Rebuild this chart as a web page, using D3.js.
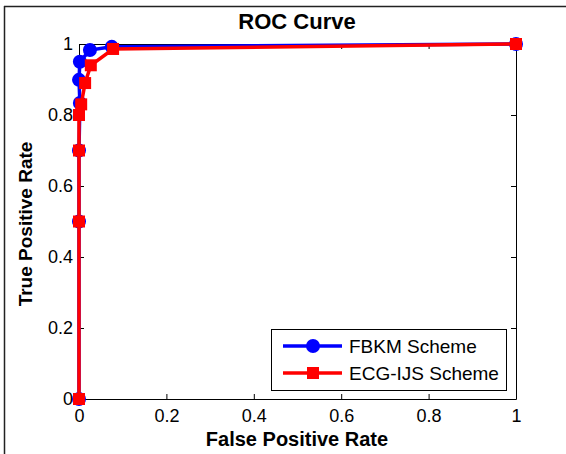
<!DOCTYPE html>
<html><head><meta charset="utf-8">
<script src="https://cdn.jsdelivr.net/npm/d3@7"></script>
<style>body{margin:0;background:#fff;} text{font-family:"Liberation Sans",Arial,sans-serif;}</style>
</head><body>
<svg id="c" width="566" height="454"></svg>
<script>
const seriesNames = ["FBKM Scheme", "ECG-IJS Scheme"];
const fbkmFPR = [0, 0, 0, 0.002, 0.0, 0.002, 0.025, 0.075, 1];
const fbkmTPR = [0, 0.5, 0.7, 0.834, 0.899, 0.95, 0.983, 0.992, 1];
const ecgFPR = [0, 0, 0, 0, 0.005, 0.014, 0.027, 0.078, 1];
const ecgTPR = [0, 0.5, 0.7, 0.8, 0.83, 0.89, 0.94, 0.986, 1];
const xTicks = [0, 0.2, 0.4, 0.6, 0.8, 1];
const yTicks = [0, 0.2, 0.4, 0.6, 0.8, 1];

const svg = d3.select("#c");
const L = 79, R = 516, T = 44, B = 399;
const x = d3.scaleLinear().domain([0, 1]).range([L, R]);
const y = d3.scaleLinear().domain([0, 1]).range([B, T]);

// outer frame (left and top)
svg.append("line").attr("x1", 4.5).attr("x2", 4.5).attr("y1", 6).attr("y2", 454).attr("stroke", "#222").attr("stroke-width", 1.5);
svg.append("line").attr("x1", 4).attr("x2", 566).attr("y1", 6.5).attr("y2", 6.5).attr("stroke", "#222").attr("stroke-width", 1.5);

// axes
const fmt = d => d === 0 || d === 1 ? String(d) : d.toFixed(1);
const gx = svg.append("g").attr("transform", `translate(0,${B})`)
  .call(d3.axisBottom(x).tickValues(xTicks).tickFormat(fmt).tickSizeInner(-5).tickSizeOuter(0).tickPadding(10));
const gy = svg.append("g").attr("transform", `translate(${L},0)`)
  .call(d3.axisLeft(y).tickValues(yTicks).tickFormat(fmt).tickSizeInner(-5).tickSizeOuter(0).tickPadding(6));
const gxt = svg.append("g").attr("transform", `translate(0,${T})`)
  .call(d3.axisTop(x).tickValues(xTicks).tickFormat("").tickSizeInner(-5).tickSizeOuter(0));
const gyr = svg.append("g").attr("transform", `translate(${R},0)`)
  .call(d3.axisRight(y).tickValues(yTicks).tickFormat("").tickSizeInner(-5).tickSizeOuter(0));
[gx, gy, gxt, gyr].forEach(g => {
  g.select(".domain").attr("stroke", "#000").attr("stroke-width", 1);
  g.selectAll(".tick line").attr("stroke", "#000");
  g.selectAll(".tick text").attr("font-size", 18).attr("fill", "#000").attr("font-family", '"Liberation Sans",Arial,sans-serif');
});

// titles
svg.append("text").attr("x", 297).attr("y", 29).attr("text-anchor", "middle").attr("font-size", 22).attr("font-weight", "bold").text("ROC Curve");
svg.append("text").attr("x", 297).attr("y", 446).attr("text-anchor", "middle").attr("font-size", 20).attr("font-weight", "bold").text("False Positive Rate");
svg.append("text").attr("transform", "translate(32,224) rotate(-90)").attr("text-anchor", "middle").attr("font-size", 19).attr("font-weight", "bold").text("True Positive Rate");

const line = d3.line().x(d => x(d[0])).y(d => y(d[1]));
const blue = fbkmFPR.map((v, i) => [v, fbkmTPR[i]]);
const red = ecgFPR.map((v, i) => [v, ecgTPR[i]]);

svg.append("path").datum(blue).attr("d", line).attr("fill", "none").attr("stroke", "#0000ff").attr("stroke-width", 3.5);
svg.selectAll("circle.b").data(blue).enter().append("circle").attr("class", "b")
  .attr("cx", d => x(d[0])).attr("cy", d => y(d[1])).attr("r", 7).attr("fill", "#0000ff");
svg.append("path").datum(red).attr("d", line).attr("fill", "none").attr("stroke", "#ff0000").attr("stroke-width", 3.5);
svg.selectAll("rect.r").data(red).enter().append("rect").attr("class", "r")
  .attr("x", d => x(d[0]) - 6).attr("y", d => y(d[1]) - 6).attr("width", 12).attr("height", 12).attr("fill", "#ff0000");

// legend
const lg = svg.append("g");
lg.append("rect").attr("x", 271.5).attr("y", 329.5).attr("width", 235).attr("height", 61).attr("fill", "#fff").attr("stroke", "#000").attr("stroke-width", 1);
const ly = [346, 373];
lg.append("line").attr("x1", 283).attr("x2", 342).attr("y1", ly[0]).attr("y2", ly[0]).attr("stroke", "#0000ff").attr("stroke-width", 3.5);
lg.append("circle").attr("cx", 313).attr("cy", ly[0]).attr("r", 7).attr("fill", "#0000ff");
lg.append("line").attr("x1", 283).attr("x2", 342).attr("y1", ly[1]).attr("y2", ly[1]).attr("stroke", "#ff0000").attr("stroke-width", 3.5);
lg.append("rect").attr("x", 307).attr("y", ly[1] - 6).attr("width", 12).attr("height", 12).attr("fill", "#ff0000");
seriesNames.forEach((n, i) => {
  lg.append("text").attr("x", 349).attr("y", ly[i] + 7).attr("font-size", 19).attr("fill", "#000").text(n);
});
</script>
</body></html>
